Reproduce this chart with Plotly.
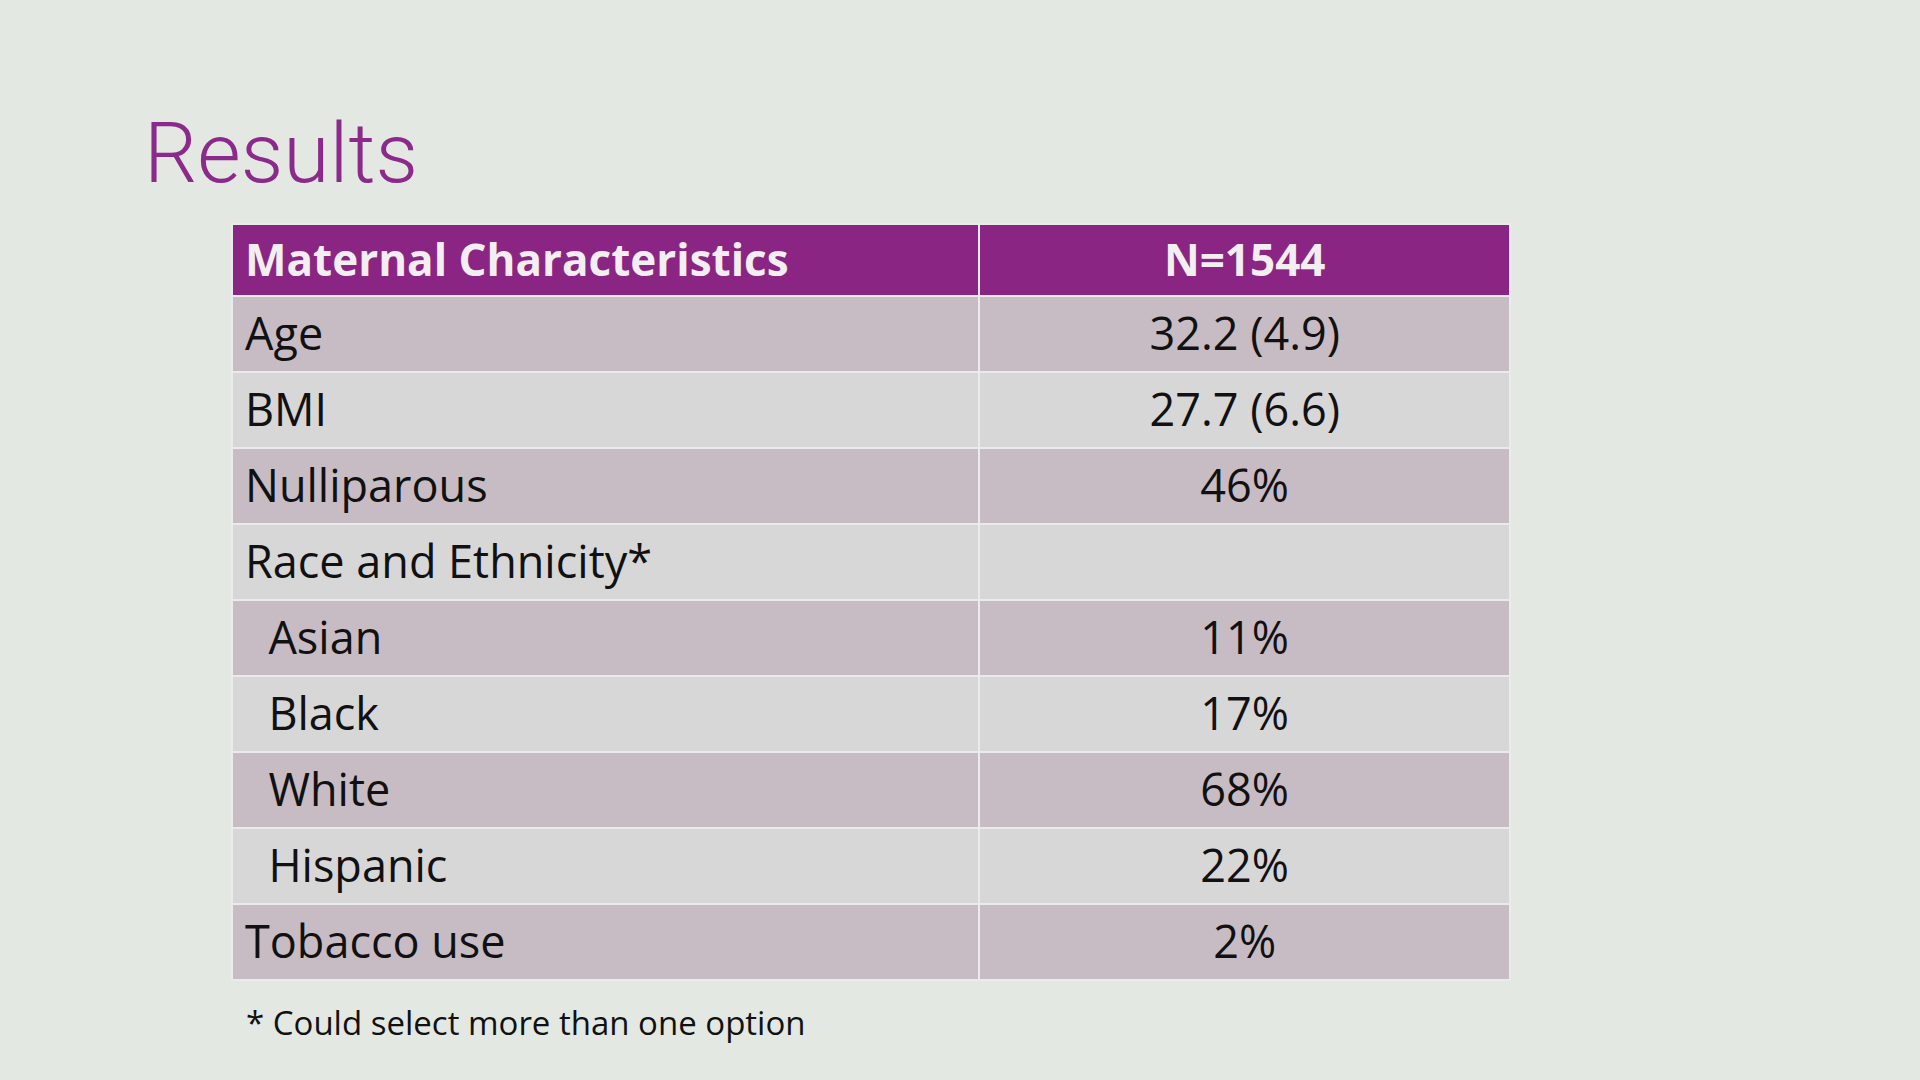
import plotly.graph_objects as go

NBSP = '\u00a0'

header = ['Maternal Characteristics', 'N=1544']
characteristics = ['Age', 'BMI', 'Nulliparous', 'Race and Ethnicity*',
                   NBSP * 2 + 'Asian', NBSP * 2 + 'Black', NBSP * 2 + 'White',
                   NBSP * 2 + 'Hispanic', 'Tobacco use']
values = ['32.2 (4.9)', '27.7 (6.6)', '46%', '', '11%', '17%', '68%', '22%', '2%']
footnote = '* Could select more than one option'

purple = '#8B2583'
odd_fill = '#C7BCC4'
even_fill = '#D8D7D8'
row_fills = [odd_fill if i % 2 == 0 else even_fill for i in range(len(characteristics))]
clear = 'rgba(0,0,0,0)'

W, H = 1920, 1080
left, right, top = 232, 1510, 224
col_w = [747.4, 530.6]
# plotly tables pin text to the top of a cell, so the text sits in a second,
# transparent table nudged down/right to centre it like the slide does
dx, dy_head, dy_body = 5, -3, 12

fig = go.Figure()
# cell fills and borders
fig.add_trace(go.Table(
    domain=dict(x=[left / W, right / W], y=[0.0, 1 - top / H]),
    columnwidth=col_w,
    header=dict(values=['', ''], fill_color=purple,
                line=dict(color='#EBEBEB', width=2), height=72),
    cells=dict(values=[[''] * len(characteristics), [''] * len(values)],
               fill_color=[row_fills, row_fills],
               line=dict(color='#EBEBEB', width=2), height=76),
))
# text layer
fig.add_trace(go.Table(
    domain=dict(x=[(left + dx) / W, right / W], y=[0.0, 1 - (top + dy_head) / H]),
    columnwidth=[col_w[0] - dx, col_w[1]],
    header=dict(
        values=['<b>' + h + '</b>' for h in header],
        fill_color=clear, line=dict(color=clear, width=0),
        align=['left', 'center'],
        font=dict(family='Open Sans', size=44, color='#F2EEF2'),
        height=72 + dy_body - dy_head,
    ),
    cells=dict(
        values=[characteristics, values],
        fill_color=clear, line=dict(color=clear, width=0),
        align=['left', 'center'],
        font=dict(family='Open Sans', size=45, color='#111111'),
        height=76,
    ),
))

fig.add_annotation(text='Results', x=142 / W, y=1 - 205 / H, xref='paper', yref='paper',
                   xanchor='left', yanchor='bottom', showarrow=False,
                   font=dict(family='Roboto', size=84, color='#8B2A8B', weight=300))
fig.add_annotation(text=footnote, x=244 / W, y=1 - 1022 / H, xref='paper', yref='paper',
                   xanchor='left', yanchor='middle', showarrow=False,
                   font=dict(family='Open Sans', size=33, color='#111111'))

fig.update_layout(width=W, height=H,
                  margin=dict(l=0, r=0, t=0, b=0),
                  paper_bgcolor='#E3E8E3',
                  plot_bgcolor='#E3E8E3')
fig.write_html('out.html', config={'displayModeBar': False},
               post_script="document.body.style.margin='0';")
